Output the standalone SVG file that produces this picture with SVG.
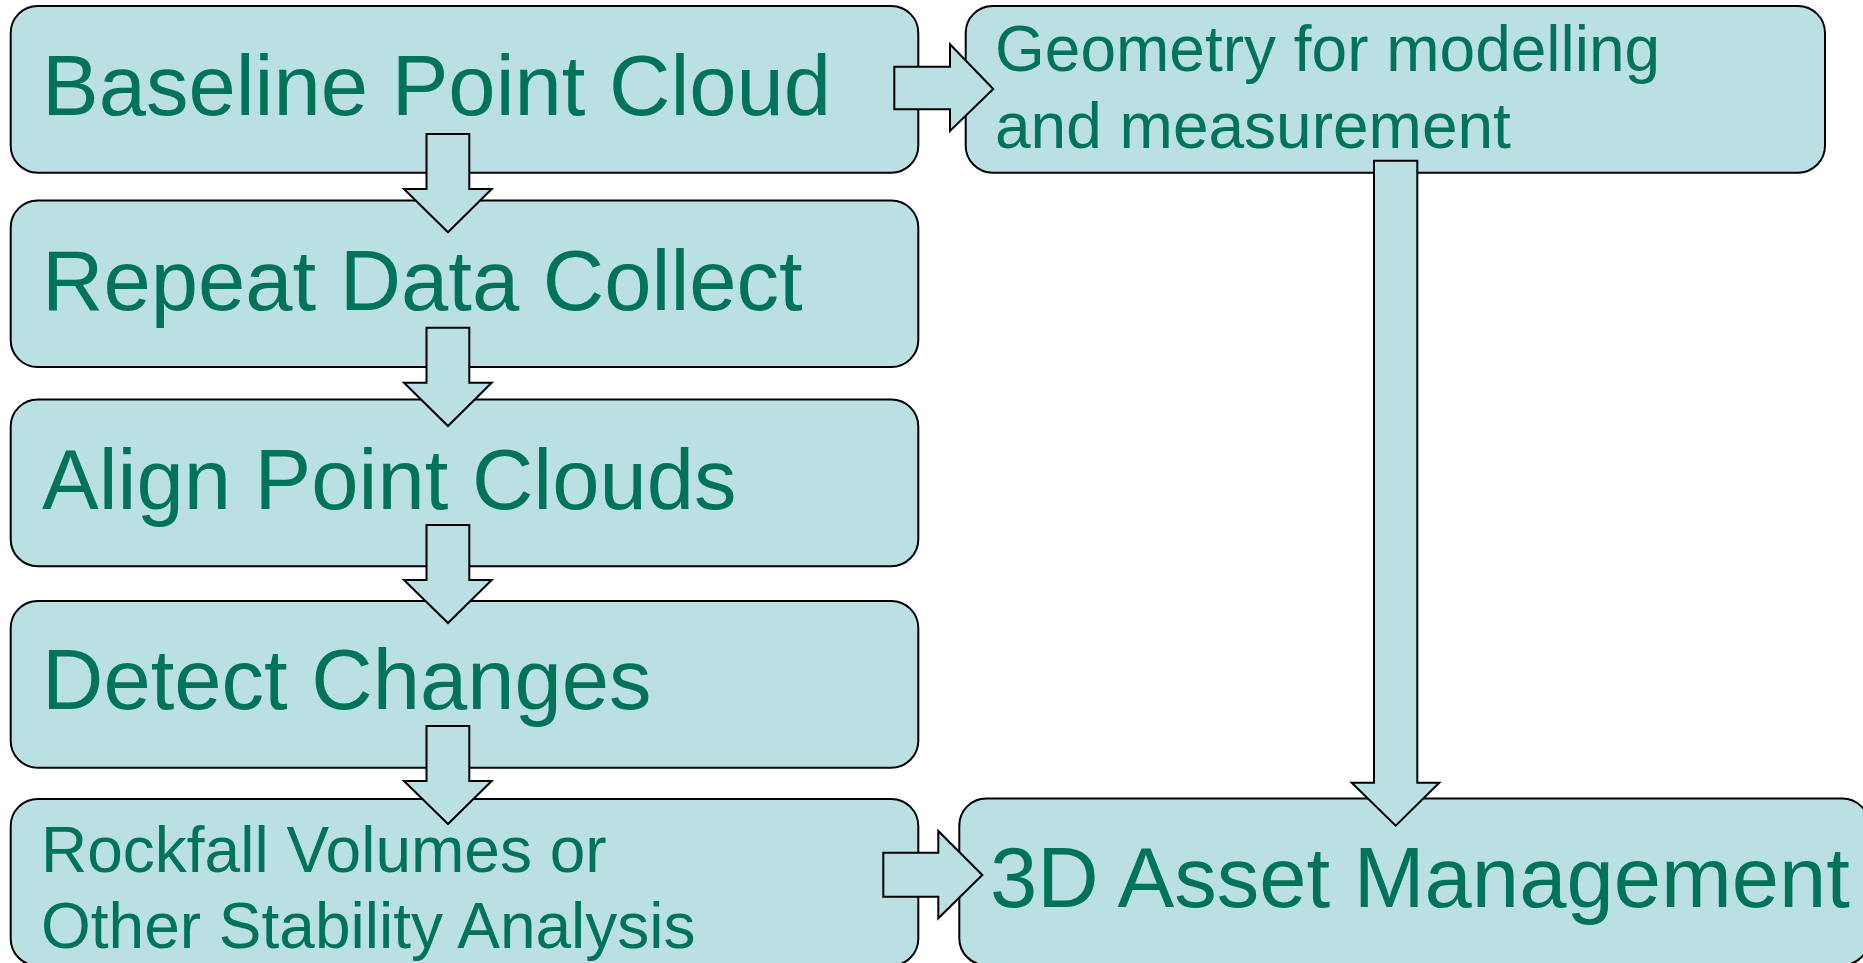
<svg xmlns="http://www.w3.org/2000/svg" width="1863" height="963" viewBox="0 0 1863 963">
<style>
.box{fill:#BAE0E3;stroke:#000;stroke-width:2}
.arr{fill:#BAE0E3;stroke:#000;stroke-width:2;stroke-linejoin:miter}
.big{font-family:"Liberation Sans",Arial,sans-serif;font-size:85px;fill:#007358}
.sm{font-family:"Liberation Sans",Arial,sans-serif;font-size:64px;fill:#007358}
</style>
<rect width="1863" height="963" fill="#fff"/>
<g id="n1"><rect class="box" x="10.7" y="6" width="907.6" height="166.7" rx="27"/><text class="big" x="42" y="115">Baseline Point Cloud</text></g>
<g id="n2"><rect class="box" x="10.7" y="200.5" width="907.6" height="166.5" rx="27"/><text class="big" x="42" y="309.5">Repeat Data Collect</text></g>
<g id="n3"><rect class="box" x="10.7" y="399.5" width="907.6" height="166.7" rx="27"/><text class="big" x="42" y="508.5">Align Point Clouds</text></g>
<g id="n4"><rect class="box" x="10.7" y="601" width="907.6" height="166.7" rx="27"/><text class="big" x="42" y="709">Detect Changes</text></g>
<g id="n5"><rect class="box" x="10.7" y="799" width="907.6" height="166.7" rx="27"/><text class="sm" x="41" y="872">Rockfall Volumes or</text><text class="sm" x="41" y="948">Other Stability Analysis</text></g>
<g id="n6"><rect class="box" x="965.7" y="6" width="859.3" height="166.7" rx="27"/><text class="sm" x="995" y="71">Geometry for modelling</text><text class="sm" x="995" y="147.7">and measurement</text></g>
<g id="n7"><rect class="box" x="959.3" y="798.5" width="910" height="166.7" rx="27"/><text class="big" x="990" y="907">3D Asset Management</text></g>
<g id="connectors">
<polygon class="arr" points="426.5,134 469.3,134 469.3,189 491.7,189 448,232.3 404,189 426.5,189"/>
<polygon class="arr" points="426.5,327.7 469.3,327.7 469.3,382.7 491.7,382.7 448,426 404,382.7 426.5,382.7"/>
<polygon class="arr" points="426.5,525 469.3,525 469.3,580 491.7,580 448,623 404,580 426.5,580"/>
<polygon class="arr" points="426.5,726 469.3,726 469.3,781 491.7,781 448,824 404,781 426.5,781"/>
<polygon class="arr" points="894.3,66.7 950,66.7 950,44.3 993.3,89 950,131 950,109.3 894.3,109.3"/>
<polygon class="arr" points="883.3,852.7 938.3,852.7 938.3,831 982.3,875 938.3,918.3 938.3,896.7 883.3,896.7"/>
<polygon class="arr" points="1374,160.7 1417.3,160.7 1417.3,782.7 1439.3,782.7 1395.7,825.7 1351.7,782.7 1374,782.7"/>
</g>
</svg>
